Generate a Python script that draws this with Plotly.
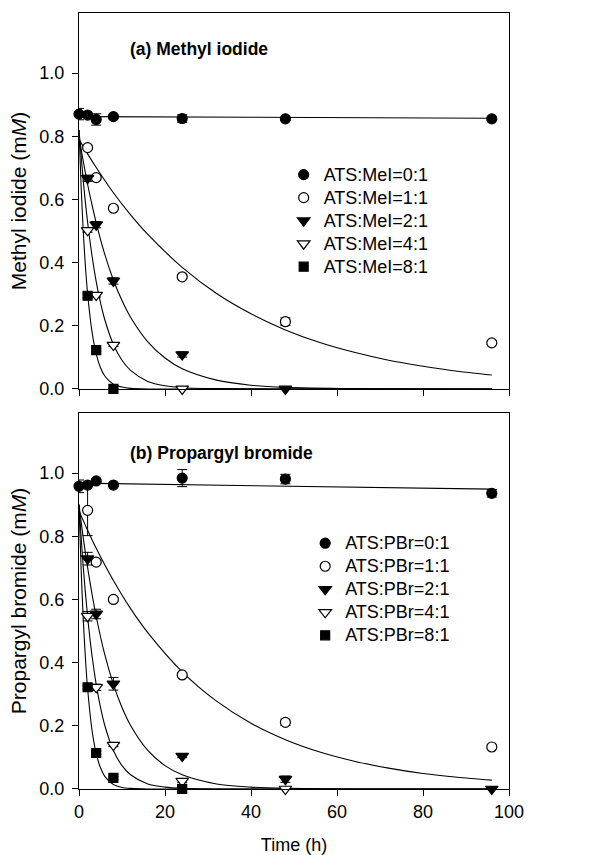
import plotly.graph_objects as go
from plotly.subplots import make_subplots

# ---------------- data ----------------
time = [0, 2, 4, 8, 24, 48, 96]

# (a) Methyl iodide, mM
mei_labels = ["ATS:MeI=0:1", "ATS:MeI=1:1", "ATS:MeI=2:1", "ATS:MeI=4:1", "ATS:MeI=8:1"]
mei_t0 = [0, 2, 4, 8, 24, 48, 96]
mei_0 = [0.870, 0.867, 0.853, 0.862, 0.856, 0.855, 0.855]
mei_0_err = [0.018, 0.004, 0.018, 0.005, 0.012, 0.005, 0.005]
mei_t1 = [2, 4, 8, 24, 48, 96]
mei_1 = [0.764, 0.669, 0.572, 0.355, 0.213, 0.146]
mei_1_err = [0.005, 0.005, 0.005, 0.005, 0.012, 0.005]
mei_t2 = [2, 4, 8, 24, 48]
mei_2 = [0.667, 0.520, 0.342, 0.109, 0.0]
mei_2_err = [0.010, 0.010, 0.010, 0.008, 0.0]
mei_t4 = [2, 4, 8, 24]
mei_4 = [0.502, 0.297, 0.139, 0.0]
mei_4_err = [0.006, 0.006, 0.004, 0.0]
mei_t8 = [2, 4, 8]
mei_8 = [0.295, 0.123, 0.0]
mei_8_err = [0.006, 0.004, 0.0]

# fitted curves (a)
fit_mei_0_t = [0, 96]
fit_mei_0 = [0.862, 0.857]
fit_slow_t = [0, 2, 4, 8, 12, 16, 24, 32, 40, 48, 56, 64, 72, 80, 88, 96]
fit_mei_1 = [0.790, 0.744, 0.701, 0.621, 0.551, 0.489, 0.385, 0.302, 0.238, 0.187,
             0.147, 0.116, 0.091, 0.072, 0.056, 0.044]
fit_mid_t = [0, 1, 2, 3, 4, 6, 8, 10, 12, 16, 20, 24, 32, 40, 48, 64, 96]
fit_mei_2 = [0.800, 0.720, 0.648, 0.584, 0.526, 0.426, 0.345, 0.280, 0.227, 0.149,
             0.098, 0.064, 0.028, 0.012, 0.005, 0.001, 0.0]
fit_fast_t = [0, 1, 2, 3, 4, 5, 6, 8, 10, 12, 16, 20, 24, 32, 48, 96]
fit_mei_4 = [0.820, 0.658, 0.528, 0.424, 0.340, 0.273, 0.219, 0.141, 0.091, 0.059,
             0.024, 0.010, 0.004, 0.001, 0.0, 0.0]
fit_vfast_t = [0, 0.5, 1, 1.5, 2, 3, 4, 5, 6, 8, 10, 12, 16, 24, 96]
fit_mei_8 = [0.820, 0.639, 0.497, 0.387, 0.302, 0.183, 0.111, 0.067, 0.041, 0.015,
             0.006, 0.002, 0.0, 0.0, 0.0]

# (b) Propargyl bromide, mM
pbr_labels = ["ATS:PBr=0:1", "ATS:PBr=1:1", "ATS:PBr=2:1", "ATS:PBr=4:1", "ATS:PBr=8:1"]
pbr_t0 = [0, 2, 4, 8, 24, 48, 96]
pbr_0 = [0.958, 0.962, 0.975, 0.962, 0.984, 0.981, 0.936]
pbr_0_err = [0.020, 0.005, 0.005, 0.005, 0.027, 0.015, 0.012]
pbr_t1 = [2, 4, 8, 24, 48, 96]
pbr_1 = [0.882, 0.718, 0.600, 0.361, 0.211, 0.133]
pbr_1_err = [0.080, 0.005, 0.005, 0.005, 0.010, 0.005]
pbr_t2 = [2, 4, 8, 24, 48, 96]
pbr_2 = [0.729, 0.554, 0.333, 0.104, 0.031, 0.0]
pbr_2_err = [0.020, 0.015, 0.020, 0.005, 0.010, 0.0]
pbr_t4 = [2, 4, 8, 24, 48]
pbr_4 = [0.547, 0.322, 0.139, 0.025, 0.0]
pbr_4_err = [0.015, 0.010, 0.005, 0.005, 0.0]
pbr_t8 = [2, 4, 8, 24]
pbr_8 = [0.322, 0.114, 0.035, 0.0]
pbr_8_err = [0.005, 0.005, 0.005, 0.0]

# fitted curves (b)
fit_pbr_0_t = [0, 96]
fit_pbr_0 = [0.968, 0.949]
fit_pbr_1 = [0.880, 0.819, 0.762, 0.660, 0.571, 0.495, 0.371, 0.278, 0.208, 0.156,
             0.117, 0.088, 0.066, 0.049, 0.037, 0.028]
fit_pbr_2 = [0.900, 0.794, 0.701, 0.619, 0.546, 0.425, 0.331, 0.258, 0.201, 0.122,
             0.074, 0.045, 0.016, 0.006, 0.002, 0.0, 0.0]
fit_pbr_4 = [0.900, 0.701, 0.546, 0.425, 0.331, 0.258, 0.201, 0.122, 0.074, 0.045,
             0.016, 0.006, 0.002, 0.0, 0.0, 0.0]
fit_pbr_8 = [0.900, 0.694, 0.535, 0.413, 0.318, 0.189, 0.112, 0.067, 0.040, 0.014,
             0.005, 0.002, 0.0, 0.0, 0.0]

x_ticks = [0, 20, 40, 60, 80, 100]
y_ticks = [0.0, 0.2, 0.4, 0.6, 0.8, 1.0]
y_tick_text = ["0.0", "0.2", "0.4", "0.6", "0.8", "1.0"]

# ---------------- figure ----------------
FONT = "Arial, Liberation Sans, sans-serif"
symbols = ["circle", "circle", "triangle-down", "triangle-down", "square"]
fills = ["black", "white", "black", "white", "black"]
sizes = [10, 10, 11, 11, 9]

fig = make_subplots(rows=2, cols=1, vertical_spacing=0.031)

def add_curve(t, v, row):
    fig.add_trace(go.Scatter(x=t, y=v, mode="lines",
                             line=dict(color="black", width=1.1, shape="spline", smoothing=0.8),
                             showlegend=False, hoverinfo="skip"), row=row, col=1)

def add_points(t, v, err, name, i, row, legend):
    fig.add_trace(go.Scatter(
        x=t, y=v, mode="markers",
        name='<span style="font-size:18px">' + name + '</span>', legend=legend,
        marker=dict(symbol=symbols[i], size=sizes[i], color=fills[i],
                    line=dict(color="black", width=1.2)),
        error_y=dict(type="data", array=err, visible=True, color="black",
                     thickness=1, width=5),
        cliponaxis=False), row=row, col=1)

# curves
add_curve(fit_mei_0_t, fit_mei_0, 1)
add_curve(fit_slow_t, fit_mei_1, 1)
add_curve(fit_mid_t, fit_mei_2, 1)
add_curve(fit_fast_t, fit_mei_4, 1)
add_curve(fit_vfast_t, fit_mei_8, 1)
add_curve(fit_pbr_0_t, fit_pbr_0, 2)
add_curve(fit_slow_t, fit_pbr_1, 2)
add_curve(fit_mid_t, fit_pbr_2, 2)
add_curve(fit_fast_t, fit_pbr_4, 2)
add_curve(fit_vfast_t, fit_pbr_8, 2)

mei_sets = [(mei_t0, mei_0, mei_0_err), (mei_t1, mei_1, mei_1_err), (mei_t2, mei_2, mei_2_err),
            (mei_t4, mei_4, mei_4_err), (mei_t8, mei_8, mei_8_err)]
pbr_sets = [(pbr_t0, pbr_0, pbr_0_err), (pbr_t1, pbr_1, pbr_1_err), (pbr_t2, pbr_2, pbr_2_err),
            (pbr_t4, pbr_4, pbr_4_err), (pbr_t8, pbr_8, pbr_8_err)]
for i, (t, v, e) in enumerate(mei_sets):
    add_points(t, v, e, mei_labels[i], i, 1, "legend")
for i, (t, v, e) in enumerate(pbr_sets):
    add_points(t, v, e, pbr_labels[i], i, 2, "legend2")

axis_common = dict(showline=True, linecolor="black", linewidth=1.3, mirror=True,
                   ticks="outside", ticklen=6, tickwidth=1.2, tickcolor="black",
                   showgrid=False, zeroline=False, automargin=False,
                   tickfont=dict(family=FONT, size=18, color="black"))

fig.update_xaxes(range=[0, 100], tickvals=x_ticks, **axis_common)
fig.update_xaxes(showticklabels=False, row=1, col=1)
fig.update_xaxes(title=dict(text="Time (h)", font=dict(family=FONT, size=18, color="black"),
                            standoff=20), row=2, col=1)
fig.update_yaxes(range=[0, 1.19], tickvals=y_ticks, ticktext=y_tick_text,
                 ticklabelstandoff=4, **axis_common)
fig.update_yaxes(title=dict(text="Methyl iodide (m<i>M</i>)",
                            font=dict(family=FONT, size=21, color="black"), standoff=6),
                 row=1, col=1)
fig.update_yaxes(title=dict(text="Propargyl bromide (m<i>M</i>)",
                            font=dict(family=FONT, size=21, color="black"), standoff=6),
                 row=2, col=1)

fig.add_annotation(text="<b>(a) Methyl iodide</b>", x=11.4, y=1.077, xref="x", yref="y",
                   xanchor="left", yanchor="middle", showarrow=False,
                   font=dict(family=FONT, size=17.5, color="black"))
fig.add_annotation(text="<b>(b) Propargyl bromide</b>", x=11.4, y=1.063, xref="x2", yref="y2",
                   xanchor="left", yanchor="middle", showarrow=False,
                   font=dict(family=FONT, size=17.5, color="black"))

legend_common = dict(font=dict(family=FONT, size=15.4, color="black"),
                     bgcolor="rgba(0,0,0,0)", borderwidth=0,
                     xanchor="left", yanchor="top", tracegroupgap=0)
fig.update_layout(
    width=608, height=855,
    margin=dict(l=79, r=99, t=13, b=66, autoexpand=False),
    paper_bgcolor="white", plot_bgcolor="white",
    font=dict(family=FONT, color="black"),
    legend=dict(x=0.476, y=0.813, **legend_common),
    legend2=dict(x=0.526, y=0.338, **legend_common),
)
fig.update_yaxes(domain=[0.5155, 1.0], row=1, col=1)
fig.update_yaxes(domain=[0.0, 0.4845], row=2, col=1)

fig.write_html("out.html")
